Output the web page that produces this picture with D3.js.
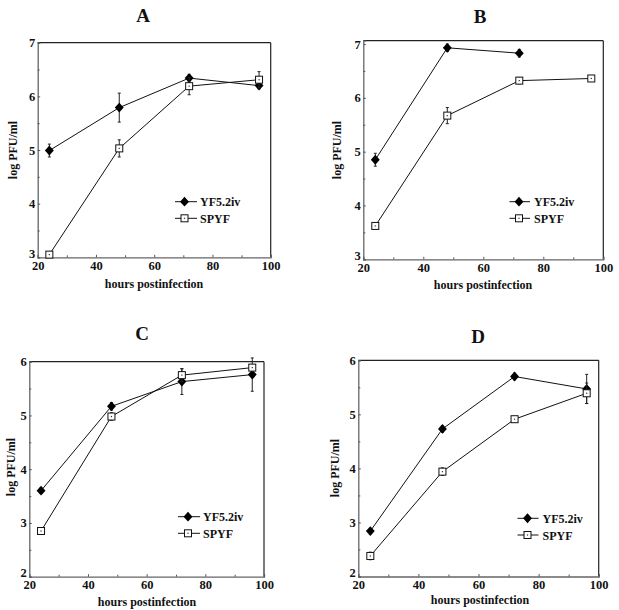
<!DOCTYPE html>
<html><head><meta charset="utf-8">
<script src="https://cdn.jsdelivr.net/npm/d3@7"></script>
<style>body{margin:0;background:#fff}svg{display:block}svg text{font-family:"Liberation Serif","DejaVu Serif",Times,serif !important;font-weight:bold;fill:#111}</style>
</head><body><svg id="c" width="619" height="610"></svg>
<script>
const hours = [24, 48, 72, 96];
const xTicks = [20, 40, 60, 80, 100];
const seriesNames = ["YF5.2iv", "SPYF"];
const panelLabels = ["A", "B", "C", "D"];
const yTicksAB = [3, 4, 5, 6, 7];
const yTicksCD = [2, 3, 4, 5, 6];

const aYF = [4.99, 5.79, 6.34, 6.20];
const aYFerr = [0.12, 0.27, 0.07, 0.06];
const aSP = [3.05, 5.03, 6.19, 6.31];
const aSPerr = [0.05, 0.16, 0.16, 0.15];

const bYF = [4.85, 6.93, 6.83];
const bYFerr = [0.12, 0.07, 0.07];
const bSP = [3.62, 5.67, 6.32, 6.36];
const bSPerr = [0.04, 0.15, 0.06, 0.04];

const cYF = [3.60, 5.17, 5.63, 5.76];
const cYFerr = [0.05, 0.07, 0.24, 0.31];
const cSP = [2.85, 4.98, 5.75, 5.89];
const cSPerr = [0.05, 0.07, 0.12, 0.05];

const dYF = [2.84, 4.73, 5.70, 5.47];
const dYFerr = [0.05, 0.06, 0.06, 0.27];
const dSP = [2.38, 3.94, 4.91, 5.39];
const dSPerr = [0.07, 0.07, 0.05, 0.19];

const panels = [
  {label: panelLabels[0], yf: aYF, yfe: aYFerr, sp: aSP, spe: aSPerr, yDom: [3, 7], yTicks: yTicksAB,
   box: {l: 37.7, r: 270.7, t: 42.7, b: 257.3}, title: [143, 22], xl: [154, 288], yl: [14, 150], leg: {x0: 175, x1: 197, m: 184.5, tx: 200, y0: 201.7, y1: 218.3}},
  {label: panelLabels[1], yf: bYF, yfe: bYFerr, sp: bSP, spe: bSPerr, yDom: [3, 7.062], yTicks: yTicksAB,
   box: {l: 363.3, r: 603.3, t: 40.7, b: 259.3}, title: [480, 23], xl: [483, 289], yl: [338, 150], leg: {x0: 509.5, x1: 530, m: 519, tx: 534, y0: 201.7, y1: 218.3}},
  {label: panelLabels[2], yf: cYF, yfe: cYFerr, sp: cSP, spe: cSPerr, yDom: [2, 6], yTicks: yTicksCD,
   box: {l: 29.3, r: 264, t: 361.7, b: 576.7}, title: [142, 340], xl: [147, 606], yl: [12, 467], leg: {x0: 178, x1: 200, m: 188, tx: 203, y0: 516.7, y1: 533.3}},
  {label: panelLabels[3], yf: dYF, yfe: dYFerr, sp: dSP, spe: dSPerr, yDom: [2, 6], yTicks: yTicksCD,
   box: {l: 358.3, r: 598.7, t: 360.3, b: 576.5}, title: [478, 343], xl: [480, 604], yl: [336, 468], leg: {x0: 517.5, x1: 538.5, m: 527.5, tx: 542.5, y0: 518.3, y1: 535}}
];

const svg = d3.select("#c");
const diamond = d3.symbol().type(d3.symbolSquare).size(44);

function drawMarker(g, type, x, y) {
  if (type === 0) {
    g.append("path").attr("d", diamond()).attr("transform", `translate(${x},${y}) scale(0.95,1.05) rotate(45)`).attr("fill", "#000");
  } else {
    g.append("rect").attr("x", x - 3.5).attr("y", y - 3.5).attr("width", 7).attr("height", 7)
      .attr("fill", "#fff").attr("stroke", "#111").attr("stroke-width", 1);
    g.append("rect").attr("x", x - 0.6).attr("y", y - 0.6).attr("width", 1.2).attr("height", 1.2).attr("fill", "#333");
  }
}

panels.forEach(p => {
  const g = svg.append("g");
  const x = d3.scaleLinear().domain([20, 100]).range([p.box.l, p.box.r]);
  const y = d3.scaleLinear().domain(p.yDom).range([p.box.b, p.box.t]);

  g.append("line").attr("x1", p.box.l).attr("x2", p.box.r).attr("y1", p.box.t).attr("y2", p.box.t).attr("stroke", "#222").attr("stroke-width", 1.2);
  g.append("line").attr("x1", p.box.r).attr("x2", p.box.r).attr("y1", p.box.t).attr("y2", p.box.b).attr("stroke", "#222").attr("stroke-width", 1.2);

  const xMinor = d3.range(30, 100, 20);
  const yMinor = d3.range(p.yTicks[0] + 0.5, p.yTicks[p.yTicks.length - 1], 1);

  const xa = g.append("g").attr("transform", `translate(0,${p.box.b})`)
    .call(d3.axisBottom(x).tickValues(xTicks).tickSize(-2.5).tickPadding(3.5).tickFormat(d3.format("d")));
  g.append("g").attr("transform", `translate(0,${p.box.b})`)
    .call(d3.axisBottom(x).tickValues(xMinor).tickSize(-2).tickFormat(""))
    .call(a => a.select(".domain").remove());
  const ya = g.append("g").attr("transform", `translate(${p.box.l},0)`)
    .call(d3.axisLeft(y).tickValues(p.yTicks).tickSize(-2.5).tickPadding(2.5).tickFormat(d3.format("d")));
  g.append("g").attr("transform", `translate(${p.box.l},0)`)
    .call(d3.axisLeft(y).tickValues(yMinor).tickSize(-2).tickFormat(""))
    .call(a => a.select(".domain").remove());
  g.selectAll(".domain").attr("stroke", "#666").attr("stroke-width", 1.3);
  g.selectAll(".tick line").attr("stroke", "#555");
  [xa, ya].forEach(a => a.selectAll("text").attr("font-size", 12.5).attr("font-weight", "bold").attr("fill", "#111"));
  ya.selectAll(".tick").filter(d => d === p.yTicks[0]).select("text").attr("dy", "0em");

  g.append("text").attr("x", p.title[0]).attr("y", p.title[1]).attr("text-anchor", "middle").attr("font-size", 19).text(p.label);
  g.append("text").attr("x", p.xl[0]).attr("y", p.xl[1]).attr("text-anchor", "middle").attr("font-size", 12).text("hours postinfection");
  g.append("text").attr("transform", `translate(${p.yl[0] + 3},${p.yl[1]}) rotate(-90)`).attr("text-anchor", "middle").attr("font-size", 12).text("log PFU/ml");

  const line = d3.line().x(d => x(d[0])).y(d => y(d[1]));
  [[p.yf, p.yfe], [p.sp, p.spe]].forEach((s, si) => {
    const pts = s[0].map((v, i) => [hours[i], v, s[1][i]]);
    g.append("path").attr("d", line(pts)).attr("fill", "none").attr("stroke", "#111").attr("stroke-width", 1);
    pts.forEach(d => {
      const cx = x(d[0]);
      g.append("line").attr("x1", cx).attr("x2", cx).attr("y1", y(d[1] - d[2])).attr("y2", y(d[1] + d[2])).attr("stroke", "#222").attr("stroke-width", 1);
      [d[1] - d[2], d[1] + d[2]].forEach(e => g.append("line").attr("x1", cx - 1.5).attr("x2", cx + 1.5).attr("y1", y(e)).attr("y2", y(e)).attr("stroke", "#222").attr("stroke-width", 1));
    });
    pts.forEach(d => drawMarker(g, si, x(d[0]), y(d[1])));
  });

  [p.leg.y0, p.leg.y1].forEach((ly, i) => {
    g.append("line").attr("x1", p.leg.x0).attr("x2", p.leg.x1).attr("y1", ly).attr("y2", ly).attr("stroke", "#111").attr("stroke-width", 1);
    drawMarker(g, i, p.leg.m, ly);
    g.append("text").attr("x", p.leg.tx).attr("y", ly + 4.5).attr("font-size", 12).text(seriesNames[i]);
  });
});
</script></body></html>
